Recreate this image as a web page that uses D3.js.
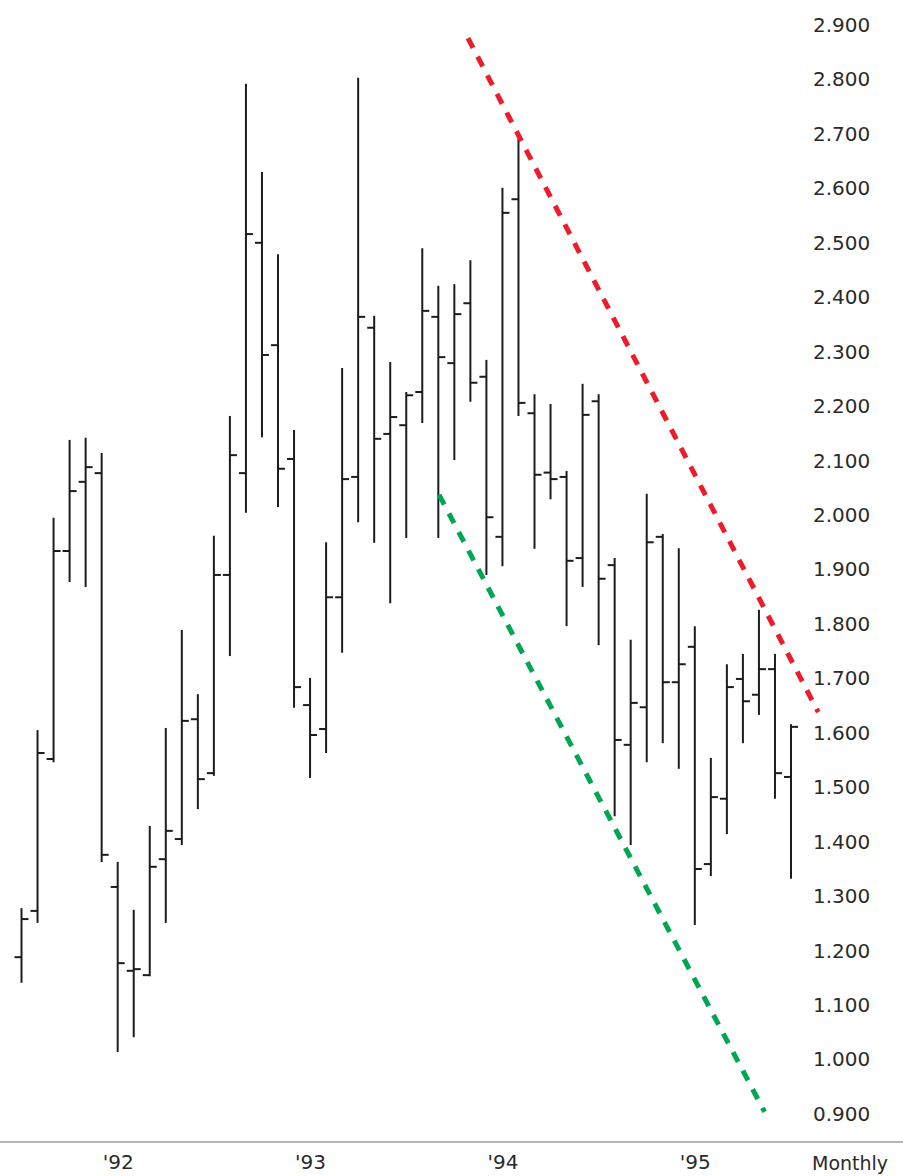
<!DOCTYPE html>
<html>
<head>
<meta charset="utf-8">
<script src="https://cdn.jsdelivr.net/npm/d3@7"></script>
<style>
  html, body { margin: 0; padding: 0; background: #fff; }
  svg { display: block; }
</style>
</head>
<body>
<svg id="chart" width="903" height="1176"></svg>
<script>
// Monthly bars, Jul 1991 .. Jul 1995
const months = ["1991-07","1991-08","1991-09","1991-10","1991-11","1991-12",
  "1992-01","1992-02","1992-03","1992-04","1992-05","1992-06","1992-07","1992-08","1992-09","1992-10","1992-11","1992-12",
  "1993-01","1993-02","1993-03","1993-04","1993-05","1993-06","1993-07","1993-08","1993-09","1993-10","1993-11","1993-12",
  "1994-01","1994-02","1994-03","1994-04","1994-05","1994-06","1994-07","1994-08","1994-09","1994-10","1994-11","1994-12",
  "1995-01","1995-02","1995-03","1995-04","1995-05","1995-06","1995-07"];

const openVals  = [1.188,1.273,1.552,1.934,2.061,2.077,1.317,1.163,1.155,1.368,1.405,1.625,1.526,1.890,2.077,2.500,2.312,2.103,
  1.651,1.607,1.849,2.070,2.344,2.149,2.165,2.226,2.364,2.279,2.389,2.254,1.960,2.580,2.187,2.078,2.070,1.921,2.209,1.908,
  1.578,1.647,1.960,1.693,1.758,1.359,1.479,1.699,1.670,1.717,1.519];
const highVals  = [1.278,1.605,1.995,2.138,2.142,2.114,1.363,1.275,1.429,1.609,1.789,1.671,1.962,2.182,2.792,2.630,2.479,2.156,
  1.701,1.950,2.270,2.803,2.366,2.281,2.226,2.490,2.421,2.424,2.468,2.285,2.601,2.692,2.222,2.204,2.081,2.241,2.222,1.921,
  1.771,2.039,1.965,1.939,1.796,1.554,1.726,1.745,1.826,1.745,1.616];
const lowVals   = [1.141,1.251,1.546,1.877,1.868,1.363,1.014,1.041,1.153,1.251,1.394,1.460,1.521,1.741,2.004,2.143,2.015,1.646,
  1.517,1.563,1.747,1.987,1.949,1.838,1.958,2.169,1.958,2.101,2.208,1.890,1.906,2.182,1.938,2.029,1.796,1.868,1.761,1.447,
  1.394,1.546,1.581,1.534,1.247,1.337,1.414,1.581,1.633,1.479,1.332];
const closeVals = [1.258,1.563,1.934,2.044,2.088,1.376,1.177,1.166,1.354,1.420,1.622,1.515,1.890,2.110,2.516,2.294,2.085,1.684,
  1.596,1.849,2.066,2.364,2.140,2.180,2.220,2.375,2.290,2.369,2.243,1.996,2.555,2.206,2.074,2.066,1.916,2.184,1.883,1.587,
  1.655,1.950,1.693,1.726,1.350,1.482,1.684,1.658,1.717,1.526,1.611];

const yTicks = [2.9,2.8,2.7,2.6,2.5,2.4,2.3,2.2,2.1,2.0,1.9,1.8,1.7,1.6,1.5,1.4,1.3,1.2,1.1,1.0,0.9];
const yearTicks = ["1992-01","1993-01","1994-01","1995-01"];
const yearLabels = ["'92","'93","'94","'95"];

// Trend lines: [month index, value]
const redTrend   = [[27.85, 2.876], [49.7, 1.638]];
const greenTrend = [[26.05, 2.037], [46.35, 0.904]];

const bars = months.map((m, i) => ({ m, i, o: openVals[i], h: highVals[i], l: lowVals[i], c: closeVals[i] }));

const svg = d3.select("#chart");
const x = d3.scaleLinear().domain([0, months.length - 1]).range([21.5, 791]);
const y = d3.scaleLinear().domain([0.9, 2.9]).range([1114, 25]);

const barColor = "#1c1c1c";
const tickLen = 7;

const g = svg.append("g");
const bar = g.selectAll("g.bar").data(bars).join("g").attr("class", "bar");
bar.append("line")
  .attr("x1", d => x(d.i)).attr("x2", d => x(d.i))
  .attr("y1", d => y(d.h)).attr("y2", d => y(d.l))
  .attr("stroke", barColor).attr("stroke-width", 2);
bar.append("line")
  .attr("x1", d => x(d.i) - tickLen).attr("x2", d => x(d.i))
  .attr("y1", d => y(d.o)).attr("y2", d => y(d.o))
  .attr("stroke", barColor).attr("stroke-width", 2);
bar.append("line")
  .attr("x1", d => x(d.i)).attr("x2", d => x(d.i) + tickLen)
  .attr("y1", d => y(d.c)).attr("y2", d => y(d.c))
  .attr("stroke", barColor).attr("stroke-width", 2);

// Trend lines
const lineGen = d3.line().x(d => x(d[0])).y(d => y(d[1]));
svg.append("path").datum(redTrend).attr("d", lineGen)
  .attr("fill", "none").attr("stroke", "#ec1c2a").attr("stroke-width", 5)
  .attr("stroke-dasharray", "11,10");
svg.append("path").datum(greenTrend).attr("d", lineGen)
  .attr("fill", "none").attr("stroke", "#00a650").attr("stroke-width", 5)
  .attr("stroke-dasharray", "11,10");

// Right value axis
const yAxis = d3.axisRight(y).tickValues(yTicks).tickFormat(d3.format(".3f")).tickSize(0).tickPadding(0);
const ya = svg.append("g").attr("transform", "translate(813,0)").call(yAxis);
ya.select(".domain").remove();
ya.selectAll("text").attr("font-family", "DejaVu Sans, sans-serif").attr("font-size", 20).attr("fill", "#2a2a2a");

// Bottom axis
svg.append("line").attr("x1", 0).attr("x2", 903).attr("y1", 1142).attr("y2", 1142)
  .attr("stroke", "#b4b4b4").attr("stroke-width", 2);
const xAxis = d3.axisBottom(x)
  .tickValues(yearTicks.map(t => months.indexOf(t)))
  .tickFormat((d, k) => yearLabels[k]).tickSize(0).tickPadding(0);
const xa = svg.append("g").attr("transform", "translate(0,1155)").call(xAxis);
xa.select(".domain").remove();
xa.selectAll("text").attr("font-family", "DejaVu Sans, sans-serif").attr("font-size", 20).attr("fill", "#2a2a2a");

svg.append("text").attr("x", 812).attr("y", 1170)
  .attr("font-family", "DejaVu Sans, sans-serif").attr("font-size", 19).attr("fill", "#2a2a2a")
  .text("Monthly");
</script>
</body>
</html>
